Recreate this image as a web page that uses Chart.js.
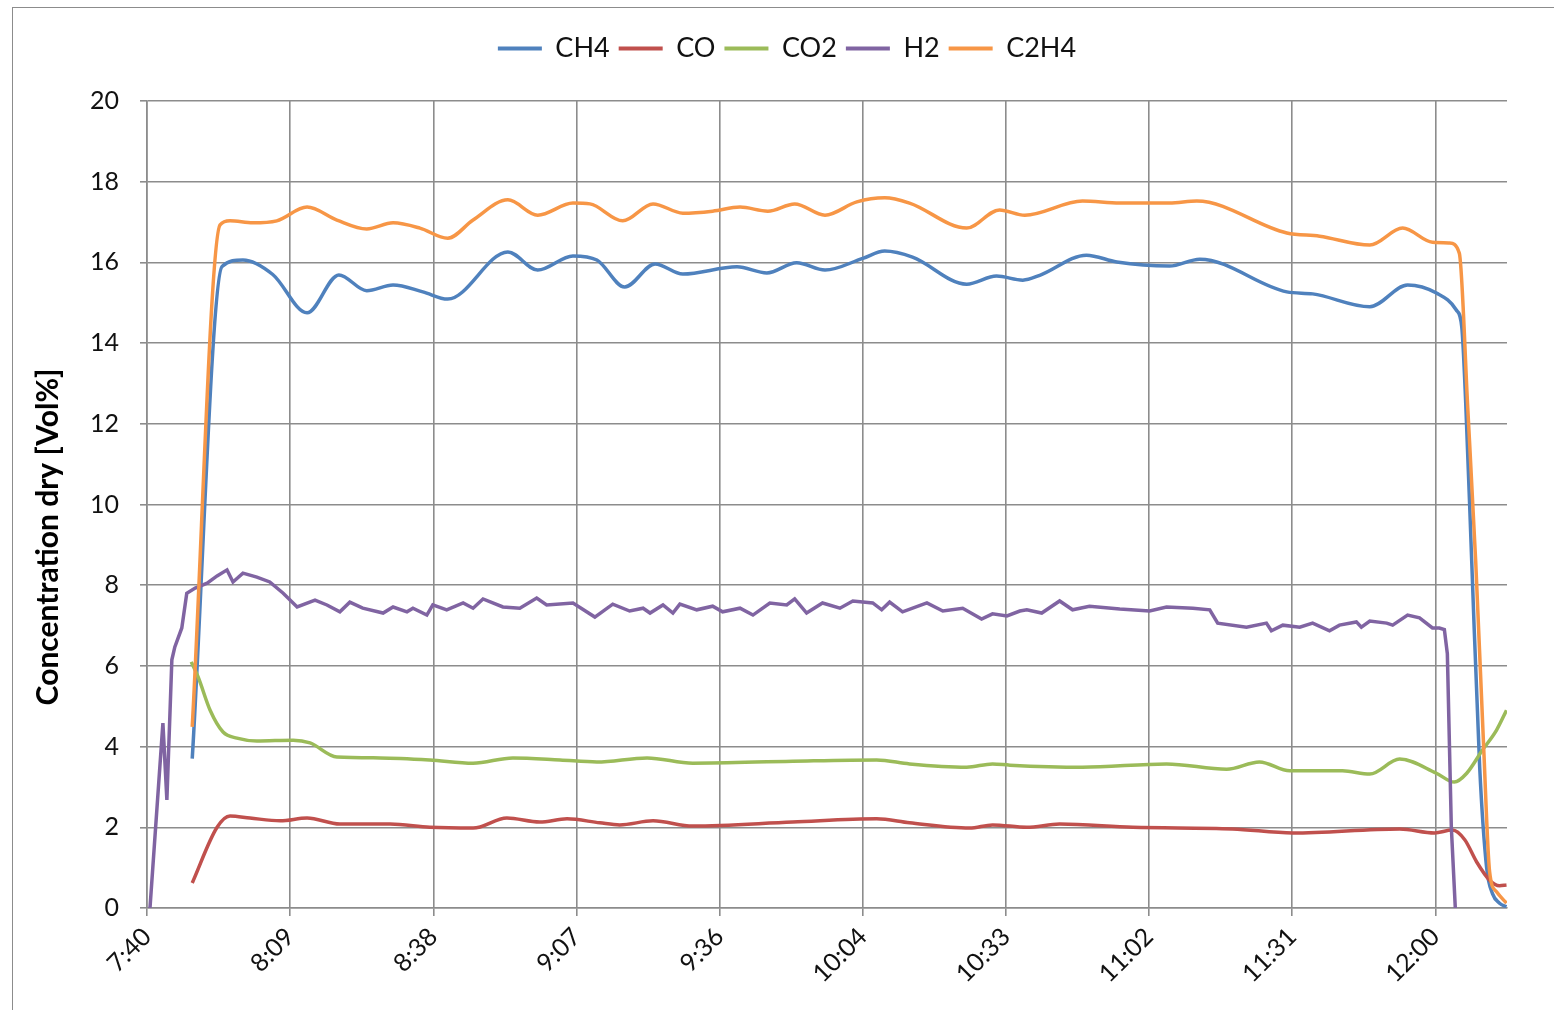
<!DOCTYPE html>
<html>
<head>
<meta charset="utf-8">
<title>Gas concentration</title>
<script src="https://cdn.jsdelivr.net/npm/chart.js@4.4.1/dist/chart.umd.min.js"></script>
<style>
  html, body { margin: 0; padding: 0; background: #fff; overflow: hidden; }
  #frame {
    position: absolute; left: 12px; top: 7px;
    width: 1541px; height: 1002px;
    border-left: 1px solid #8c8c8c; border-top: 1px solid #8c8c8c;
  }
</style>
</head>
<body>
<div id="frame"><canvas id="myChart"></canvas></div>
<script>
// time of day in minutes after midnight, concentration in Vol%
const tickMinutes = [460.8, 489.6, 518.4, 547.2, 576, 604.8, 633.6, 662.4, 691.2, 720];
const tickLabels = ["7:40", "8:09", "8:38", "9:07", "9:36", "10:04", "10:33", "11:02", "11:31", "12:00"];

const ch4Time = [469.9, 475.9, 480.1, 486.1, 493.0, 499.4, 505.0, 510.3, 516.3, 521.3, 533.4, 539.4, 546.5, 551.3, 556.9, 563.0, 568.6, 579.5, 585.5, 591.5, 597.2, 604.8, 609.2, 614.8, 625.7, 631.7, 637.0, 640.4, 649.8, 655.9, 666.5, 672.6, 690.1, 695.3, 706.8, 714.4, 720.2, 724.2, 725.3, 726.1, 727.3, 728.9, 730.3, 731.5, 732.9, 734.3];
const ch4Vol = [3.7, 15.9, 16.06, 15.7, 14.75, 15.69, 15.3, 15.44, 15.27, 15.09, 16.26, 15.81, 16.16, 16.06, 15.39, 15.96, 15.71, 15.89, 15.74, 15.99, 15.81, 16.1, 16.28, 16.13, 15.46, 15.66, 15.56, 15.68, 16.18, 16.01, 15.91, 16.08, 15.27, 15.22, 14.9, 15.44, 15.24, 14.82, 14.4, 12.5, 8.6, 3.5, 1.0, 0.35, 0.12, 0.03];

const coTime = [469.9, 474.9, 477.5, 481.5, 487.6, 493.0, 499.6, 509.7, 517.7, 526.4, 533.2, 539.8, 545.3, 551.9, 555.9, 562.6, 570.6, 590.7, 607.6, 614.2, 626.3, 630.9, 637.8, 644.4, 659.1, 679.2, 691.3, 712.8, 719.8, 723.4, 725.9, 728.3, 730.9, 732.9, 734.3];
const coVol = [0.62, 2.0, 2.28, 2.23, 2.16, 2.23, 2.08, 2.08, 2.0, 1.98, 2.23, 2.13, 2.21, 2.11, 2.06, 2.16, 2.03, 2.13, 2.21, 2.11, 1.98, 2.06, 2.0, 2.08, 2.0, 1.96, 1.86, 1.96, 1.86, 1.93, 1.69, 1.14, 0.69, 0.55, 0.57];

const co2Time = [469.7, 471.1, 473.5, 476.1, 478.9, 482.9, 490.2, 493.6, 499.0, 507.7, 517.7, 526.4, 534.4, 543.9, 551.3, 561.4, 570.6, 590.7, 607.6, 614.2, 625.7, 630.9, 634.4, 649.0, 665.9, 678.0, 684.6, 690.7, 701.3, 706.8, 712.8, 720.2, 723.8, 726.3, 729.5, 732.3, 734.3];
const co2Vol = [6.1, 5.72, 4.9, 4.36, 4.21, 4.14, 4.16, 4.09, 3.74, 3.72, 3.67, 3.59, 3.72, 3.67, 3.62, 3.72, 3.59, 3.64, 3.67, 3.57, 3.49, 3.57, 3.54, 3.49, 3.57, 3.44, 3.62, 3.4, 3.4, 3.32, 3.69, 3.34, 3.12, 3.34, 3.92, 4.41, 4.9];

const h2Time = [461.4, 464.0, 464.8, 465.8, 466.4, 467.8, 468.8, 470.5, 472.9, 474.9,
  476.9, 478.1, 480.1, 482.9, 485.5, 488.2, 491.0, 494.6, 497.0, 499.6,
  501.6, 504.2, 508.3, 510.3, 513.1, 514.3, 517.1, 518.3, 521.1, 524.4,
  526.4, 528.4, 532.4, 535.8, 539.2, 541.2, 546.5, 550.9, 554.5, 557.9,
  560.6, 562.0, 564.6, 566.6, 568.0, 571.4, 574.6, 576.6, 580.1, 582.7,
  586.1, 589.5, 591.1, 593.5, 596.7, 600.2, 602.8, 606.8, 608.6, 610.2,
  612.8, 617.7, 620.9, 624.9, 628.7, 630.9, 633.8, 636.4, 637.8, 640.8,
  644.4, 647.0, 650.4, 656.5, 662.5, 665.9, 671.2, 674.6, 676.2, 682.0,
  686.0, 687.0, 689.3, 692.7, 695.3, 698.7, 700.7, 704.1, 705.1, 706.8,
  710.2, 711.4, 714.4, 716.8, 719.4, 720.8, 721.8, 722.4, 723.2, 724.0];
const h2Vol = [0, 4.58, 2.68, 6.15, 6.47, 6.94, 7.8, 7.93, 8.05, 8.23,
  8.38, 8.08, 8.3, 8.2, 8.08, 7.8, 7.46, 7.63, 7.51, 7.34,
  7.58, 7.43, 7.31, 7.46, 7.34, 7.43, 7.26, 7.51, 7.39, 7.56,
  7.43, 7.66, 7.46, 7.43, 7.68, 7.51, 7.56, 7.21, 7.53, 7.36,
  7.43, 7.31, 7.51, 7.31, 7.53, 7.39, 7.48, 7.34, 7.43, 7.26,
  7.56, 7.51, 7.66, 7.31, 7.56, 7.43, 7.61, 7.56, 7.39, 7.58,
  7.34, 7.56, 7.36, 7.43, 7.16, 7.29, 7.24, 7.36, 7.39, 7.31,
  7.61, 7.39, 7.48, 7.41, 7.36, 7.46, 7.43, 7.39, 7.06, 6.96,
  7.06, 6.87, 7.01, 6.96, 7.06, 6.87, 7.01, 7.09, 6.96, 7.11,
  7.06, 7.01, 7.26, 7.19, 6.94, 6.94, 6.9, 6.3, 2.0, 0];

const c2h4Time = [469.9, 475.5, 477.5, 482.1, 486.9, 493.0, 499.0, 505.0, 510.3, 515.7, 521.3, 526.4, 533.4, 539.4, 546.5, 549.9, 556.5, 562.6, 568.6, 574.6, 580.1, 585.7, 591.1, 597.2, 603.6, 609.2, 614.2, 625.7, 632.3, 637.4, 649.0, 656.5, 666.5, 672.0, 690.1, 696.7, 706.8, 713.4, 719.4, 722.8, 724.8, 726.5, 728.1, 729.7, 730.9, 732.3, 734.3];
const c2h4Vol = [4.49, 16.93, 17.03, 16.98, 17.03, 17.37, 17.05, 16.83, 16.98, 16.85, 16.6, 17.05, 17.55, 17.17, 17.47, 17.45, 17.03, 17.45, 17.22, 17.27, 17.37, 17.27, 17.45, 17.17, 17.5, 17.6, 17.47, 16.85, 17.3, 17.17, 17.52, 17.47, 17.47, 17.52, 16.73, 16.65, 16.43, 16.85, 16.5, 16.48, 16.23, 12.4, 8.6, 4.0, 0.9, 0.4, 0.12];

const grafica = document.getElementById("myChart").getContext("2d");
const gridColor = "#8c8c8c";
const fuente = "Lato, 'Open Sans', sans-serif";

function puntos(tiempos, valores) {
    return tiempos.map((t, i) => ({ x: t, y: valores[i] }));
}

function serie(nombre, tiempos, valores, color, orden, suave) {
    return {
        label: nombre,
        data: puntos(tiempos, valores),
        borderColor: color,
        backgroundColor: color,
        borderWidth: 3.5,
        pointRadius: 0,
        fill: false,
        order: orden,
        cubicInterpolationMode: suave ? "monotone" : "default",
        tension: suave ? 0.4 : 0
    };
}

// y axis title drawn at the same spot as in the original
const tituloEje = {
    id: "tituloEje",
    afterDraw(chart) {
        const ctx = chart.ctx;
        ctx.save();
        ctx.translate(35, 529);
        ctx.rotate(-Math.PI / 2);
        ctx.font = "bold 30px " + fuente;
        ctx.fillStyle = "#000";
        ctx.textAlign = "center";
        ctx.textBaseline = "middle";
        ctx.fillText("Concentration dry [Vol%]", 0, 0);
        ctx.restore();
    }
};

// legend takes the whole band above the plot, shifted a bit to the right like the original
const altoLeyenda = {
    id: "altoLeyenda",
    beforeInit(chart) {
        const fitOriginal = chart.legend.fit;
        chart.legend.fit = function () {
            fitOriginal.bind(chart.legend)();
            this.height = 80;
        };
        const drawOriginal = chart.legend.draw;
        chart.legend.draw = function () {
            this.ctx.save();
            this.ctx.translate(27, 5);
            drawOriginal.bind(chart.legend)();
            this.ctx.restore();
        };
    }
};

const myChart = new Chart(grafica, {
    type: "line",
    data: {
        datasets: [
            serie("CH4", ch4Time, ch4Vol, "#4f81bd", 5, true),
            serie("CO", coTime, coVol, "#c0504d", 4, true),
            serie("CO2", co2Time, co2Vol, "#9bbb59", 3, true),
            serie("H2", h2Time, h2Vol, "#8064a2", 2, false),
            serie("C2H4", c2h4Time, c2h4Vol, "#f79646", 1, true)
        ]
    },
    plugins: [tituloEje, altoLeyenda],
    options: {
        responsive: true,
        maintainAspectRatio: false,
        animation: false,
        layout: { padding: { top: 13, left: 0, right: 47, bottom: 0 } },
        plugins: {
            tooltip: { enabled: false },
            legend: {
                position: "top",
                align: "center",
                labels: {
                    boxWidth: 44,
                    boxHeight: 4,
                    padding: 9,
                    color: "#111",
                    font: { family: fuente, size: 27 },
                    sort: (a, b) => a.datasetIndex - b.datasetIndex,
                    generateLabels(chart) {
                        const items = Chart.defaults.plugins.legend.labels.generateLabels(chart);
                        items.forEach(it => { it.lineWidth = 0; });
                        return items;
                    }
                }
            }
        },
        scales: {
            x: {
                type: "linear",
                min: 460.8,
                max: 734.4,
                afterBuildTicks(scale) {
                    scale.ticks = tickMinutes.map(v => ({ value: v }));
                },
                afterFit(scale) { scale.height = 102; },
                border: { color: gridColor, width: 1.6 },
                grid: { color: gridColor, lineWidth: 1.6, tickLength: 8, tickColor: gridColor },
                ticks: {
                    autoSkip: false,
                    minRotation: 45,
                    maxRotation: 45,
                    padding: 6,
                    color: "#111",
                    font: { family: fuente, size: 25 },
                    callback: (value, index) => tickLabels[index]
                }
            },
            y: {
                min: 0,
                max: 20,
                afterFit(scale) { scale.width = 134; },
                border: { color: gridColor, width: 1.6 },
                grid: { color: gridColor, lineWidth: 1.6, tickLength: 7, tickColor: gridColor },
                ticks: {
                    stepSize: 2,
                    padding: 21,
                    color: "#111",
                    font: { family: fuente, size: 25 }
                }
            }
        }
    }
});
</script>
</body>
</html>
